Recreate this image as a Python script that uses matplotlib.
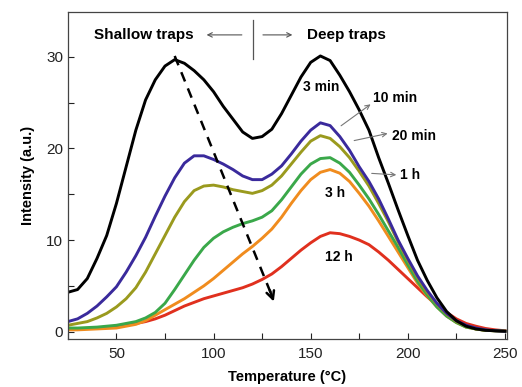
import matplotlib
matplotlib.use("Agg")
import matplotlib.pyplot as plt
from matplotlib.ticker import MultipleLocator

plt.rcParams['font.family'] = ['Liberation Sans', 'DejaVu Sans']

# temperature grid (°C)
temp = [25, 30, 35, 40, 45, 50, 55, 60, 65, 70, 75, 80, 85, 90, 95, 100, 105, 110, 115, 120,
        125, 130, 135, 140, 145, 150, 155, 160, 165, 170, 175, 180, 185, 190, 195, 200,
        205, 210, 215, 220, 225, 230, 235, 240, 245, 250]

i_3min = [4.3, 4.6, 5.8, 8.0, 10.5, 14.0, 18.0, 22.0, 25.3, 27.5, 29.0, 29.7, 29.3, 28.5, 27.5, 26.2,
          24.6, 23.2, 21.8, 21.1, 21.3, 22.1, 23.8, 25.8, 27.8, 29.4, 30.1, 29.6, 28.0, 26.2, 24.2,
          22.0, 19.0, 16.2, 13.3, 10.5, 7.8, 5.6, 3.7, 2.2, 1.2, 0.6, 0.3, 0.15, 0.1, 0.05]
i_10min = [1.1, 1.4, 2.0, 2.8, 3.8, 4.9, 6.5, 8.3, 10.3, 12.6, 14.8, 16.8, 18.4, 19.2, 19.2, 18.8,
           18.3, 17.7, 17.0, 16.6, 16.6, 17.2, 18.1, 19.4, 20.8, 22.0, 22.8, 22.5, 21.3, 19.8, 18.0,
           16.4, 14.5, 12.3, 10.0, 8.0, 6.1, 4.5, 3.1, 2.0, 1.2, 0.7, 0.4, 0.2, 0.1, 0.05]
i_20min = [0.7, 0.9, 1.1, 1.5, 2.0, 2.7, 3.6, 4.8, 6.5, 8.5, 10.5, 12.5, 14.2, 15.4, 15.9, 16.0,
           15.8, 15.5, 15.3, 15.1, 15.4, 16.0, 17.0, 18.3, 19.6, 20.8, 21.4, 21.1, 20.2, 19.0, 17.5,
           15.9, 14.0, 12.0, 9.8, 7.8, 5.9, 4.3, 3.0, 1.9, 1.1, 0.6, 0.3, 0.15, 0.1, 0.05]
i_1h = [0.4, 0.4, 0.45, 0.5, 0.6, 0.7, 0.9, 1.1, 1.5, 2.1, 3.1, 4.6, 6.2, 7.8, 9.2, 10.2,
        10.9, 11.4, 11.8, 12.1, 12.5, 13.2, 14.4, 15.8, 17.2, 18.3, 18.9, 19.0, 18.4, 17.4, 16.0,
        14.5, 12.8, 11.0, 9.2, 7.3, 5.5, 4.0, 2.7, 1.7, 1.0, 0.5, 0.3, 0.15, 0.1, 0.05]
i_3h = [0.2, 0.2, 0.25, 0.3, 0.35, 0.4, 0.6, 0.8, 1.2, 1.8, 2.4, 3.0, 3.6, 4.3, 5.0, 5.8,
        6.7, 7.6, 8.5, 9.3, 10.2, 11.2, 12.5, 14.0, 15.4, 16.6, 17.4, 17.7, 17.3, 16.4, 15.1,
        13.7, 12.1, 10.4, 8.7, 7.0, 5.3, 3.9, 2.7, 1.7, 1.0, 0.5, 0.3, 0.15, 0.1, 0.05]
i_12h = [0.3, 0.3, 0.35, 0.4, 0.5, 0.6, 0.75, 0.9, 1.1, 1.4, 1.8, 2.3, 2.8, 3.2, 3.6, 3.9,
         4.2, 4.5, 4.8, 5.2, 5.7, 6.3, 7.1, 8.0, 8.9, 9.7, 10.4, 10.8, 10.7, 10.4, 10.0,
         9.5, 8.7, 7.8, 6.8, 5.8, 4.8, 3.8, 2.9, 2.1, 1.4, 0.9, 0.6, 0.35, 0.2, 0.1]

series = [
    (i_12h, '#e0301e'),
    (i_3h, '#f08c1e'),
    (i_1h, '#3aa84a'),
    (i_20min, '#9a9a1e'),
    (i_10min, '#3a2a9c'),
    (i_3min, '#000000'),
]

fig = plt.figure(figsize=(5.22, 3.87), dpi=100)
ax = fig.add_axes([0.130, 0.124, 0.841, 0.845])

for vals, col in series:
    ax.plot(temp, vals, color=col, lw=2.1, solid_joinstyle='round')

ax.set_xlim(25, 251)
ax.set_ylim(-0.8, 34.9)
ax.xaxis.set_major_locator(MultipleLocator(50))
ax.xaxis.set_minor_locator(MultipleLocator(25))
ax.yaxis.set_major_locator(MultipleLocator(10))
ax.yaxis.set_minor_locator(MultipleLocator(5))
ax.tick_params(which='both', direction='in', length=4, width=0.8, labelsize=11, colors='#222222')
ax.tick_params(axis='x', pad=6)
for sp in ax.spines.values():
    sp.set_color('#444444')
    sp.set_linewidth(0.9)

ax.set_xlabel('Temperature (°C)', fontsize=10.5, fontweight='bold', labelpad=6)
ax.set_ylabel('Intensity (a.u.)', fontsize=10.5, fontweight='bold', labelpad=8)

# dashed arrow showing the shift of the shallow-trap peak
ax.plot([80, 129.5], [30.1, 4.2], color='black', lw=1.8, linestyle=(0, (4, 3)))
ax.annotate('', xy=(131.5, 3.0), xytext=(128.5, 4.8),
            arrowprops=dict(arrowstyle='->', color='black', lw=1.8, mutation_scale=14))

# header: shallow / deep traps
ax.text(90, 32.4, 'Shallow traps', ha='right', va='center', fontsize=11, fontweight='bold')
ax.annotate('', xy=(95, 32.4), xytext=(116, 32.4),
            arrowprops=dict(arrowstyle='->', color='#555555', lw=0.8, mutation_scale=8))
ax.plot([120.5, 120.5], [29.8, 34.0], color='#555555', lw=0.9)
ax.annotate('', xy=(142, 32.4), xytext=(124, 32.4),
            arrowprops=dict(arrowstyle='->', color='#555555', lw=0.8, mutation_scale=8))
ax.text(148, 32.4, 'Deep traps', ha='left', va='center', fontsize=11, fontweight='bold')

# curve labels
lab = dict(fontsize=10, fontweight='bold', va='center')
ax.text(155.5, 26.7, '3 min', ha='center', **lab)
ax.text(182, 25.5, '10 min', ha='left', **lab)
ax.text(192, 21.4, '20 min', ha='left', **lab)
ax.text(196, 17.1, '1 h', ha='left', **lab)
ax.text(162.5, 15.1, '3 h', ha='center', **lab)
ax.text(164.5, 8.2, '12 h', ha='center', **lab)

arr = dict(arrowstyle='->', color='#777777', lw=0.8, mutation_scale=8)
ax.annotate('', xy=(182, 25.0), xytext=(164.5, 22.3), arrowprops=arr)
ax.annotate('', xy=(191, 21.7), xytext=(171, 20.8), arrowprops=arr)
ax.annotate('', xy=(195.5, 17.1), xytext=(180, 17.3), arrowprops=arr)

fig.savefig('out.png', dpi=100)
